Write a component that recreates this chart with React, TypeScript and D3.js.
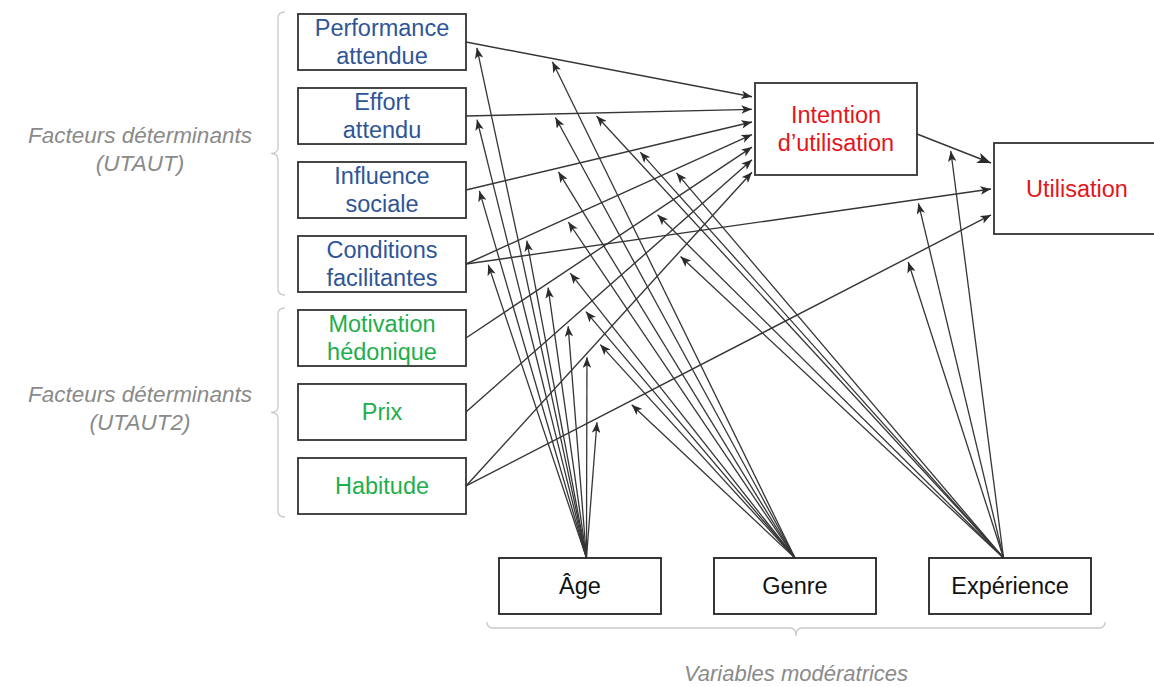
import React from "react";
import * as d3 from "d3";

// ---- data ----
const determinantIds = ["perf", "effort", "influence", "conditions", "motivation", "prix", "habitude"];
const determinantLabels = [
  ["Performance", "attendue"],
  ["Effort", "attendu"],
  ["Influence", "sociale"],
  ["Conditions", "facilitantes"],
  ["Motivation", "hédonique"],
  ["Prix"],
  ["Habitude"],
];
const determinantModel = ["UTAUT", "UTAUT", "UTAUT", "UTAUT", "UTAUT2", "UTAUT2", "UTAUT2"];
const modelNames = ["UTAUT", "UTAUT2"];
const modelLabels = [
  ["Facteurs déterminants", "(UTAUT)"],
  ["Facteurs déterminants", "(UTAUT2)"],
];

const intentionLabel = ["Intention", "d’utilisation"];
const useLabel = ["Utilisation"];

const moderatorIds = ["age", "genre", "experience"];
const moderatorLabels = ["Âge", "Genre", "Expérience"];
const moderatorCaption = "Variables modératrices";

// relations (source -> target)
const pathFrom = ["perf", "effort", "influence", "conditions", "conditions", "motivation", "prix", "habitude", "habitude", "intention"];
const pathTo = ["intention", "intention", "intention", "intention", "utilisation", "intention", "intention", "intention", "utilisation", "utilisation"];

// moderated relations (index into paths) and where along the relation the arrow lands
const ageEdges = [0, 1, 2, 4, 3, 5, 6, 7, 8];
const ageT = [0.035, 0.035, 0.043, 0.04, 0.21, 0.285, 0.356, 0.423, 0.25];
const genreEdges = [0, 1, 2, 3, 5, 6, 7, 8];
const genreT = [0.296, 0.306, 0.316, 0.35, 0.356, 0.41, 0.46, 0.31];
const expEdges = [1, 2, 3, 5, 7, 8, 4, 9];
const expT = [0.447, 0.6, 0.727, 0.66, 0.74, 0.84, 0.86, 0.45];

const moderations = [
  { id: "age", edges: ageEdges, t: ageT },
  { id: "genre", edges: genreEdges, t: genreT },
  { id: "experience", edges: expEdges, t: expT },
];

// ---- layout ----
const W = 1154;
const H = 687;
const FONT = "'Liberation Sans', Arial, sans-serif";
const BLUE = "#2f5597";
const GREEN = "#1fae4c";
const RED = "#e3161b";
const GREY = "#8a8a8a";
const LINE = "#363636";

type Box = { x: number; y: number; w: number; h: number };

export default function App() {
  const rowY = d3.scaleBand<string>().domain(determinantIds).range([14, 514]).paddingInner(0.243).paddingOuter(0);
  const colX = d3.scaleBand<string>().domain(moderatorIds).range([499, 1091]).paddingInner(0.2465).paddingOuter(0);

  const nodes: Record<string, Box> = {};
  determinantIds.forEach((id) => {
    nodes[id] = { x: 298, y: rowY(id)!, w: 168, h: rowY.bandwidth() };
  });
  nodes.intention = { x: 755, y: 83, w: 162, h: 92 };
  nodes.utilisation = { x: 994, y: 143, w: 175, h: 91 };
  moderatorIds.forEach((id) => {
    nodes[id] = { x: colX(id)!, y: 558, w: colX.bandwidth(), h: 56 };
  });

  // input ports on the target boxes, ordered by source position
  const portFrac: Record<string, [number, number]> = { intention: [0.15, 0.97], utilisation: [0.22, 0.79] };
  const edges = pathFrom.map((from, i) => ({ from, to: pathTo[i], i }));
  const segs: { x1: number; y1: number; x2: number; y2: number; big: boolean }[] = [];
  ["intention", "utilisation"].forEach((target) => {
    const ins = edges
      .filter((e) => e.to === target)
      .sort((a, b) => nodes[a.from].y + nodes[a.from].h / 2 - (nodes[b.from].y + nodes[b.from].h / 2));
    const [f0, f1] = portFrac[target];
    const port = d3.scaleLinear().domain([0, ins.length - 1]).range([f0, f1]);
    ins.forEach((e, k) => {
      const s = nodes[e.from];
      const t = nodes[e.to];
      segs[e.i] = {
        x1: s.x + s.w,
        y1: s.y + s.h / 2 + (e.from === "intention" ? 5 : 0),
        x2: t.x - 3,
        y2: t.y + port(k) * t.h,
        big: e.from === "intention",
      };
    });
  });

  // moderator fans converge slightly toward the middle box
  const midX = colX(moderatorIds[1])! + colX.bandwidth() / 2;
  const modLines: { x1: number; y1: number; x2: number; y2: number; key: string }[] = [];
  moderations.forEach((m) => {
    const b = nodes[m.id];
    const cx = b.x + b.w / 2;
    const ax = cx + (midX - cx) * 0.03;
    const ay = b.y;
    m.edges.forEach((ei, k) => {
      const s = segs[ei];
      const p = d3.interpolate([s.x1, s.y1], [s.x2, s.y2])(m.t[k]) as number[];
      const dx = p[0] - ax;
      const dy = p[1] - ay;
      const len = Math.hypot(dx, dy);
      const gap = 4;
      modLines.push({ x1: ax, y1: ay, x2: p[0] - (dx / len) * gap, y2: p[1] - (dy / len) * gap, key: `${m.id}-${ei}` });
    });
  });

  const labelText = (lines: string[], cx: number, cy: number, color: string, size: number, key: string) => {
    const lh = 28;
    return lines.map((l, k) => (
      <text
        key={`${key}-${k}`}
        x={cx}
        y={cy + (k - (lines.length - 1) / 2) * lh}
        textAnchor="middle"
        dominantBaseline="central"
        fill={color}
        fontSize={size}
        fontFamily={FONT}
      >
        {l}
      </text>
    ));
  };

  // brackets for the two groups of determinants
  const bx = 278;
  const groups = modelNames.map((name, gi) => {
    const ids = determinantIds.filter((_, i) => determinantModel[i] === name);
    const top = nodes[ids[0]].y - 2;
    const bot = nodes[ids[ids.length - 1]].y + nodes[ids[ids.length - 1]].h + 3;
    const mid = (top + bot) / 2;
    const d = `M${bx + 7},${top} Q${bx},${top} ${bx},${top + 6} V${mid - 6} Q${bx},${mid} ${bx - 7},${mid} Q${bx},${mid} ${bx},${mid + 6} V${bot - 6} Q${bx},${bot} ${bx + 7},${bot}`;
    return { d, mid, label: modelLabels[gi], name };
  });

  const left = nodes[moderatorIds[0]].x - 12;
  const right = nodes[moderatorIds[2]].x + nodes[moderatorIds[2]].w + 14;
  const by = 628;
  const bmid = (left + right) / 2;
  const bottomBracket = `M${left},${by - 6} Q${left},${by} ${left + 6},${by} H${bmid - 6} Q${bmid},${by} ${bmid},${by + 8} Q${bmid},${by} ${bmid + 6},${by} H${right - 6} Q${right},${by} ${right},${by - 6}`;

  return (
    <svg width={W} height={H} style={{ position: "absolute", left: 0, top: 0, background: "#fff" }}>
      <defs>
        <marker id="head" viewBox="0 0 10 8" refX={10} refY={4} markerWidth={11} markerHeight={8.5} markerUnits="userSpaceOnUse" orient="auto">
          <path d="M0,0 L10,4 L0,8 L2.5,4 Z" fill="#2b2b2b" />
        </marker>
        <marker id="bighead" viewBox="0 0 10 8" refX={10} refY={4} markerWidth={14} markerHeight={11} markerUnits="userSpaceOnUse" orient="auto">
          <path d="M0,0 L10,4 L0,8 L2.5,4 Z" fill="#2b2b2b" />
        </marker>
      </defs>

      {/* brackets */}
      {groups.map((g) => (
        <g key={g.name}>
          <path d={g.d} fill="none" stroke="#c9c9c9" strokeWidth={1.3} />
          {g.label.map((l, k) => (
            <text
              key={k}
              x={140}
              y={g.mid - 4 + (k - 0.5) * 28}
              textAnchor="middle"
              dominantBaseline="central"
              fill={GREY}
              fontStyle="italic"
              fontSize={22.5}
              fontFamily={FONT}
            >
              {l}
            </text>
          ))}
        </g>
      ))}
      <path d={bottomBracket} fill="none" stroke="#c9c9c9" strokeWidth={1.3} />
      <text x={bmid} y={673} textAnchor="middle" dominantBaseline="central" fill={GREY} fontStyle="italic" fontSize={22} fontFamily={FONT}>
        {moderatorCaption}
      </text>

      {/* main relations */}
      {segs.map((s, i) => (
        <line key={`p${i}`} x1={s.x1} y1={s.y1} x2={s.x2} y2={s.y2} stroke={LINE} strokeWidth={1.4} markerEnd={s.big ? "url(#bighead)" : "url(#head)"} />
      ))}

      {/* moderating arrows */}
      {modLines.map((m) => (
        <line key={m.key} x1={m.x1} y1={m.y1} x2={m.x2} y2={m.y2} stroke={LINE} strokeWidth={1.3} markerEnd="url(#head)" />
      ))}

      {/* boxes */}
      {determinantIds.map((id, i) => {
        const b = nodes[id];
        const color = determinantModel[i] === "UTAUT" ? BLUE : GREEN;
        return (
          <g key={id}>
            <rect x={b.x} y={b.y} width={b.w} height={b.h} fill="#fff" stroke="#333" strokeWidth={1.8} />
            {labelText(determinantLabels[i], b.x + b.w / 2, b.y + b.h / 2, color, 23.5, id)}
          </g>
        );
      })}
      {[
        { id: "intention", label: intentionLabel },
        { id: "utilisation", label: useLabel },
      ].map(({ id, label }) => {
        const b = nodes[id];
        const cx = id === "utilisation" ? 1077 : b.x + b.w / 2;
        return (
          <g key={id}>
            <rect x={b.x} y={b.y} width={b.w} height={b.h} fill="#fff" stroke="#333" strokeWidth={1.8} />
            {labelText(label, cx, b.y + b.h / 2, RED, 23.5, id)}
          </g>
        );
      })}
      {moderatorIds.map((id, i) => {
        const b = nodes[id];
        return (
          <g key={id}>
            <rect x={b.x} y={b.y} width={b.w} height={b.h} fill="#fff" stroke="#222" strokeWidth={1.8} />
            {labelText([moderatorLabels[i]], b.x + b.w / 2, b.y + b.h / 2, "#111", 23.5, id)}
          </g>
        );
      })}
    </svg>
  );
}
